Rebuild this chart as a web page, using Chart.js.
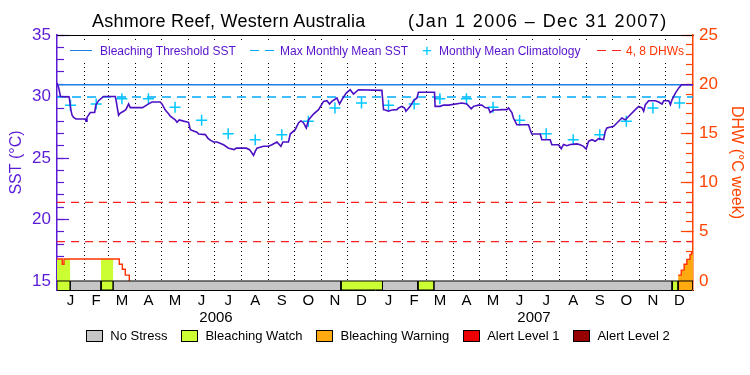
<!DOCTYPE html>
<html>
<head>
<meta charset="utf-8">
<script src="https://cdn.jsdelivr.net/npm/chart.js@4.4.1/dist/chart.umd.min.js"></script>
<style>
  body { margin: 0; background: #fff; }
  #wrap { position: relative; width: 750px; height: 375px; font-family: "Liberation Sans", Arial, sans-serif; }
  #wrap canvas { position: absolute; left: 0; top: 0; }
  .ttl { position: absolute; top: 11px; font-size: 18px; color: #000; white-space: pre; }
  #key { position: absolute; left: 66px; top: 41px; width: 620px; height: 20px; background: #fff; font-size: 12px; }
  .k { position: absolute; top: 3px; white-space: pre; line-height: 14px; }
  .ln { position: absolute; top: 9px; height: 0; }
  #status { position: absolute; left: 0; top: 328px; width: 756px; display: flex; justify-content: center; gap: 14px; font-size: 13px; line-height: 16px; color: #000; }
  #status span.item { display: flex; align-items: center; white-space: pre; }
  #status span.box { display: inline-block; width: 15px; height: 10px; border: 1px solid #000; margin-right: 7px; }
</style>
</head>
<body>
<div id="wrap">
  <canvas id="mycanvas" width="750" height="375"></canvas>
  <div class="ttl" style="left:92px;letter-spacing:0.25px">Ashmore Reef, Western Australia</div>
  <div class="ttl" style="left:408px;letter-spacing:1.4px">(Jan 1 2006 – Dec 31 2007)</div>
  <div id="key">
    <div class="ln" style="left:4px;width:22px;border-top:1.5px solid #1f7fe5"></div>
    <div class="k" style="left:34px;color:#5511cc">Bleaching Threshold SST</div>
    <div class="ln" style="left:184px;width:9px;border-top:1.5px solid #00aaff"></div>
    <div class="ln" style="left:199px;width:9px;border-top:1.5px solid #00aaff"></div>
    <div class="k" style="left:214px;color:#5511cc">Max Monthly Mean SST</div>
    <div class="k" style="left:356px;top:3px;color:#00c8ff;font-size:17px">+</div>
    <div class="k" style="left:373px;color:#5511cc">Monthly Mean Climatology</div>
    <div class="ln" style="left:531px;width:9px;border-top:1.5px solid #ff2020"></div>
    <div class="ln" style="left:546px;width:9px;border-top:1.5px solid #ff2020"></div>
    <div class="k" style="left:560px;color:#ff3300">4, 8 DHWs</div>
  </div>
  <div id="status"></div>
</div>
<script>
const monthLetters = ['J', 'F', 'M', 'A', 'M', 'J', 'J', 'A', 'S', 'O', 'N', 'D'];
const yearLabels = ['2006', '2007'];
const sstTicks = [15, 20, 25, 30, 35];
const dhwTicks = [0, 5, 10, 15, 20, 25];

// monthly mean climatology, Jan..Dec
const climatology = [29.28, 29.4, 29.82, 29.82, 29.12, 28.06, 26.98, 26.49, 26.9, 27.98, 29.07, 29.47];
const thresholdSST = 30.95;
const maxMonthlyMean = 29.95;
const dhwLevels = [4, 8];

// SST, days since Jan 1 2006
const sstDay = [
  0, 2, 4, 14, 15.7, 17.2, 19, 21.8, 32.5, 33.3,
  34.4, 38.2, 43.2, 44.7, 47.7, 53.5, 66.9, 68, 70.7, 72.6,
  76.4, 79.2, 82.2, 84.1, 98.2, 105.1, 109, 118.5, 120.5, 124.3,
  128, 130, 135.7, 137.7, 140.3, 145.3, 151, 153, 156.7, 160.6,
  162.5, 170.2, 173.3, 175.9, 179.7, 183.6, 191.2, 196.9, 203.4, 205.7,
  217.2, 221, 225.6, 227.5, 229.5, 237, 242.8, 246.7, 252.4, 257,
  259.3, 265.7, 267.7, 273.4, 277.2, 280, 283, 286.1, 288.7, 294.4,
  300.2, 305.9, 309.8, 312.8, 315.5, 321.3, 324.3, 328.2, 332, 336.5,
  340.3, 346, 372.9, 374.8, 376.7, 380.5, 384.4, 390.1, 392, 395.9,
  398.9, 400.5, 405.4, 409.2, 413.1, 414.9, 433.3, 434, 439.8, 443.6,
  449.4, 464.7, 470.4, 475.4, 478, 483.8, 487.6, 491.4, 495.2, 497.2,
  501, 504.9, 510.6, 516.4, 518.3, 522.1, 523.9, 527.8, 541.2, 543.1,
  545, 554.6, 556.5, 566.1, 568, 575.7, 578.8, 581.4, 585.3, 589.1,
  596.7, 600.5, 604.3, 607.4, 610.1, 614, 617.8, 621.6, 627.4, 629.3,
  631.2, 638.9, 642.7, 648.4, 652.3, 658, 663.8, 667.6, 671.5, 673.4,
  675.3, 679.1, 686.8, 690.6, 694.5, 696.4, 702.2, 704.1, 706, 709.8,
  713.7, 716.8, 730
];
const sstValue = [
  31.1, 30.7, 30.0, 29.96, 29.0, 28.5, 28.3, 28.17, 28.17, 28.0,
  28.3, 28.7, 28.7, 29.33, 29.66, 30.0, 30.0, 29.6, 28.47, 28.65,
  28.8, 28.95, 29.4, 29.1, 29.1, 29.4, 29.55, 29.55, 29.4, 28.9,
  28.6, 28.4, 28.1, 27.9, 28.1, 28.0, 27.9, 27.3, 27.2, 27.1,
  26.95, 26.9, 26.6, 26.45, 26.3, 26.3, 26.08, 25.8, 25.68, 25.8,
  25.8, 25.68, 25.22, 25.54, 25.8, 25.95, 25.95, 26.08, 26.3, 25.95,
  26.3, 26.3, 26.95, 27.3, 27.85, 28.03, 27.85, 27.44, 28.1, 28.57,
  28.93, 29.6, 29.66, 29.39, 29.6, 29.88, 29.39, 29.88, 30.28, 30.55,
  30.2, 30.55, 30.5, 28.93, 28.9, 28.8, 28.9, 28.93, 29.07, 29.2,
  29.07, 28.8, 29.2, 29.66, 29.88, 30.34, 30.34, 29.2, 29.2, 29.3,
  29.3, 29.47, 29.4, 29.0, 29.2, 29.3, 29.3, 29.1, 29.07, 28.7,
  28.9, 28.9, 28.93, 28.93, 29.07, 28.7, 28.25, 27.7, 27.7, 27.3,
  26.95, 26.95, 26.49, 26.49, 26.08, 26.08, 25.76, 26.1, 26.0, 26.1,
  26.15, 26.08, 25.95, 25.73, 26.36, 26.49, 26.36, 26.57, 26.49, 27.17,
  27.44, 27.57, 27.85, 28.25, 28.1, 28.52, 28.93, 29.2, 29.07, 28.8,
  29.34, 29.66, 29.66, 29.55, 29.39, 29.66, 29.66, 29.34, 29.75, 30.28,
  30.7, 30.96, 30.96
];

// degree heating weeks, each value holds until the next day listed
const dhwDay = [0, 6, 8, 71.5, 75, 78.4, 83, 713, 716.5, 719.8, 723, 726.5, 728.5, 730];
const dhwValue = [2.24, 1.7, 2.24, 1.7, 1.2, 0.6, 0, 0.6, 1.1, 1.7, 2.2, 2.7, 2.95, 2.95];

// stress level periods (days since Jan 1 2006)
const statusNames = ['No Stress', 'Bleaching Watch', 'Bleaching Warning', 'Alert Level 1', 'Alert Level 2'];
const statusStart = [0, 15.3, 50.5, 64.6, 325.9, 373.6, 414.2, 432.9, 706, 712.9];
const statusEnd = [15.3, 50.5, 64.6, 325.9, 373.6, 414.2, 432.9, 706, 712.9, 730];
const statusLevel = [1, 0, 1, 0, 1, 0, 1, 0, 1, 2];

const statusColors = ['#c6c6c6', '#ccff33', '#ffaa11', '#ee0000', '#960000'];
const purple = '#5a1ad6';
const orange = '#ff4400';
const sstMin = 14.27, sstMax = 35;
const dhwMin = -0.915, dhwMax = 25;

const t0 = Date.UTC(2006, 0, 1);
function dayOf(y, m, d) { return (Date.UTC(y, m, d) - t0) / 864e5; }

var monthStarts = [];
yearLabels.forEach(function(y) {
  for (var m = 0; m < 12; m++) monthStarts.push(dayOf(+y, m, 1));
});
monthStarts.push(dayOf(2008, 0, 1));

var tickLabel = new Map();
var gridDays = new Set();
for (var i = 0; i < 24; i++) {
  tickLabel.set((monthStarts[i] + monthStarts[i + 1]) / 2, monthLetters[i % 12]);
  if (i > 0) { gridDays.add(monthStarts[i]); tickLabel.set(monthStarts[i], ''); }
}
yearLabels.forEach(function(y, yi) {
  tickLabel.set((monthStarts[yi * 12] + monthStarts[yi * 12 + 12]) / 2, ['', y]);
});
var xTicks = Array.from(tickLabel.keys()).sort(function(a, b) { return a - b; });

var climPoints = [];
for (var i = 0; i < 24; i++) {
  climPoints.push({x: (monthStarts[i] + monthStarts[i + 1]) / 2, y: climatology[i % 12]});
}

function dhwAt(t) {
  var v = 0;
  for (var i = 0; i < dhwDay.length; i++) if (dhwDay[i] <= t) v = dhwValue[i];
  return v;
}

function statusData(level) {
  var pts = [];
  statusStart.forEach(function(s, i) {
    if (statusLevel[i] !== level) return;
    var e = statusEnd[i];
    pts.push({x: s, y: dhwMin}, {x: s, y: 0}, {x: e, y: 0}, {x: e, y: dhwMin});
  });
  return pts;
}

var sstPoints = sstDay.map(function(d, i) { return {x: d, y: sstValue[i]}; });
var dhwPoints = dhwDay.map(function(d, i) { return {x: d, y: dhwValue[i]}; });

var datasets = [
  {label: 'SST', data: sstPoints, yAxisID: 'yL', borderColor: '#4b10c4', borderWidth: 1.6, pointRadius: 0, fill: false},
  {label: 'Monthly Mean Climatology', data: climPoints, yAxisID: 'yL', showLine: false, pointStyle: 'cross', pointRadius: 5.5, borderColor: '#00c8ff', borderWidth: 1.5},
  {label: 'Bleaching Threshold SST', data: [{x: 0, y: thresholdSST}, {x: 730, y: thresholdSST}], yAxisID: 'yL', borderColor: '#1f7fe5', borderWidth: 1.5, pointRadius: 0},
  {label: 'Max Monthly Mean SST', data: [{x: 0, y: maxMonthlyMean}, {x: 730, y: maxMonthlyMean}], yAxisID: 'yL', borderColor: '#00aaff', borderWidth: 1.5, borderDash: [9, 6], pointRadius: 0}
];

statusNames.forEach(function(name, level) {
  datasets.push({label: name, data: statusData(level), yAxisID: 'yR', borderColor: '#000', borderWidth: 1,
    backgroundColor: statusColors[level], pointRadius: 0, fill: 'start'});
});

datasets.push({label: 'DHW', data: dhwPoints, yAxisID: 'yR', stepped: true, borderColor: '#ff3300', borderWidth: 1.4, pointRadius: 0,
  segment: {borderColor: function(ctx) { return ctx.p0.parsed.y === 0 ? 'rgba(0,0,0,0)' : undefined; }}});

statusStart.forEach(function(s, i) {
  if (statusLevel[i] < 1) return;
  var e = statusEnd[i];
  var pts = [{x: s, y: dhwAt(s)}];
  dhwDay.forEach(function(d, j) { if (d > s && d < e) pts.push({x: d, y: dhwValue[j]}); });
  pts.push({x: e, y: dhwAt(e)});
  datasets.push({label: 'fill', data: pts, yAxisID: 'yR', stepped: true, borderWidth: 0, pointRadius: 0,
    backgroundColor: statusColors[statusLevel[i]], fill: 'origin'});
});

dhwLevels.forEach(function(v) {
  datasets.push({label: v + ' DHW', data: [{x: 0, y: v}, {x: 730, y: v}], yAxisID: 'yR', borderColor: '#ff2020', borderWidth: 1.2,
    borderDash: [8, 6], pointRadius: 0});
});

// stress level key under the chart
var key = document.getElementById('status');
statusNames.forEach(function(name, level) {
  var item = document.createElement('span');
  item.className = 'item';
  var box = document.createElement('span');
  box.className = 'box';
  box.style.background = statusColors[level];
  item.appendChild(box);
  item.appendChild(document.createTextNode(name));
  key.appendChild(item);
});

Chart.defaults.font.family = '"Liberation Sans", Arial, sans-serif';

var ctx = document.getElementById('mycanvas');
var chart = new Chart(ctx, {
  type: 'line',
  data: {datasets: datasets},
  options: {
    responsive: false,
    animation: false,
    events: [],
    layout: {padding: {top: 35, bottom: 50, left: 0, right: 0}},
    plugins: {
      tooltip: {enabled: false},
      legend: {display: false}
    },
    scales: {
      x: {
        type: 'linear', min: 0, max: 730,
        afterBuildTicks: function(s) { s.ticks = xTicks.map(function(v) { return {value: v}; }); },
        afterFit: function(s) { s.height = 35; },
        ticks: {autoSkip: false, maxRotation: 0, color: '#000', padding: 3, font: {size: 15, lineHeight: 1.1},
          callback: function(v) { return tickLabel.get(v); }},
        grid: {drawTicks: false, lineWidth: 1,
          color: function(c) { return c.tick && gridDays.has(c.tick.value) ? '#000' : 'rgba(0,0,0,0)'; }},
        border: {color: '#000', width: 1, dash: [1, 3]}
      },
      xTop: {
        type: 'linear', position: 'top', min: 0, max: 730,
        ticks: {display: false}, grid: {display: false}, border: {color: '#000', width: 1},
        afterFit: function(s) { s.height = 0; }
      },
      yL: {
        type: 'linear', position: 'left', weight: 1, min: sstMin, max: sstMax,
        afterBuildTicks: function(s) { s.ticks = sstTicks.map(function(v) { return {value: v}; }); },
        afterFit: function(s) { s.width = 57; },
        ticks: {color: purple, font: {size: 17}, padding: 18},
        grid: {drawOnChartArea: false, tickLength: -12, tickColor: purple, tickWidth: 1.2},
        border: {color: purple, width: 1.5},
        title: {display: true, text: 'SST (°C)', color: purple, font: {size: 16}, padding: {top: 7, bottom: 0}}
      },
      yLm: {
        type: 'linear', position: 'left', weight: 0, min: sstMin, max: sstMax,
        afterBuildTicks: function(s) { var t = []; for (var v = 15; v <= 35; v++) t.push({value: v}); s.ticks = t; },
        afterFit: function(s) { s.width = 0; },
        ticks: {display: false},
        grid: {drawOnChartArea: false, tickLength: -7, tickColor: purple, tickWidth: 1.2},
        border: {display: false}
      },
      yR: {
        type: 'linear', position: 'right', weight: 1, min: dhwMin, max: dhwMax,
        afterBuildTicks: function(s) { s.ticks = dhwTicks.map(function(v) { return {value: v}; }); },
        afterFit: function(s) { s.width = 57; },
        ticks: {color: orange, font: {size: 17}, padding: 18},
        grid: {drawOnChartArea: false, tickLength: -12, tickColor: orange, tickWidth: 1.2},
        border: {color: orange, width: 1.5},
        title: {display: true, text: 'DHW (°C week)', color: orange, font: {size: 16}, padding: {top: 4.4, bottom: 0}}
      },
      yRm: {
        type: 'linear', position: 'right', weight: 0, min: dhwMin, max: dhwMax,
        afterBuildTicks: function(s) { var t = []; for (var v = 0; v <= 25; v++) t.push({value: v}); s.ticks = t; },
        afterFit: function(s) { s.width = 0; },
        ticks: {display: false},
        grid: {drawOnChartArea: false, tickLength: -7, tickColor: orange, tickWidth: 1.2},
        border: {display: false}
      }
    }
  }
});
</script>
</body>
</html>
